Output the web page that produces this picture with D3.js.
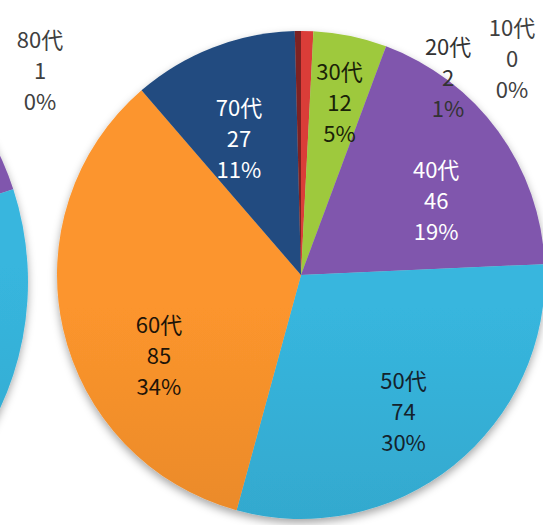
<!DOCTYPE html>
<html>
<head>
<meta charset="utf-8">
<script src="https://cdn.jsdelivr.net/npm/d3@7"></script>
<style>
  html, body { margin: 0; padding: 0; background: #fff; }
  svg { display: block; }
  text { font-family: "Noto Sans CJK JP", "Noto Sans", sans-serif; font-size: 22px; }
</style>
</head>
<body>
<svg id="chart" width="543" height="525"></svg>
<script>
// age groups and counts (main pie)
var ages = ["10代", "20代", "30代", "40代", "50代", "60代", "70代", "80代"];
var counts = [0, 2, 12, 46, 74, 85, 27, 1];
// partly visible neighbour pie on the left
var leftCounts = [0, 3, 15, 32, 80, 80, 39, 1];

var colors = ["#4F81BD", "#D63B37", "#9BC53D", "#7E55AA", "#36B3DA", "#F8922C", "#1F4A7E", "#7B1F1F"];

var svg = d3.select("#chart");
var defs = svg.append("defs");

var cx = 301, cy = 275, r = 244;
var lcx = -272, lcy = 282, lr = 300;

// soft shadow under the pies
var f = defs.append("filter").attr("id", "shadow")
    .attr("x", "-20%").attr("y", "-20%").attr("width", "140%").attr("height", "140%");
f.append("feDropShadow").attr("dx", 0).attr("dy", 4).attr("stdDeviation", 4)
    .attr("flood-color", "#000").attr("flood-opacity", 0.35);

function gradient(id, c, y0, y1) {
    var g = defs.append("linearGradient").attr("id", id)
        .attr("gradientUnits", "userSpaceOnUse")
        .attr("x1", 0).attr("x2", 0).attr("y1", y0).attr("y2", y1);
    g.append("stop").attr("offset", 0).attr("stop-color", d3.color(c).brighter(0.05));
    g.append("stop").attr("offset", 1).attr("stop-color", d3.color(c).darker(0.45));
}
colors.forEach(function(c, i) {
    gradient("g" + i, c, cy - r, cy + r);
    gradient("lg" + i, c, lcy - lr, lcy + lr);
});

var pie = d3.pie().sort(null).value(function(d) { return d; });

// left pie (cropped)
var larc = d3.arc().innerRadius(0).outerRadius(lr);
svg.append("g").attr("transform", "translate(" + lcx + "," + lcy + ")")
    .attr("filter", "url(#shadow)")
    .selectAll("path").data(pie(leftCounts)).enter().append("path")
    .attr("d", larc)
    .attr("fill", function(d, i) { return "url(#lg" + i + ")"; });

// main pie
var arc = d3.arc().innerRadius(0).outerRadius(r);
var total = d3.sum(counts);
var arcs = pie(counts);
svg.append("g").attr("transform", "translate(" + cx + "," + cy + ")")
    .attr("filter", "url(#shadow)")
    .selectAll("path").data(arcs).enter().append("path")
    .attr("d", arc)
    .attr("fill", function(d, i) { return "url(#g" + i + ")"; });

// label placement: from the arc centroid, nudged like Excel's best fit
var labelArc = d3.arc().innerRadius(r * 0.66).outerRadius(r * 0.66);
var nudge = [[211, -55], [143, -36], [6, -14], [5, 21], [2, 11], [15, 46], [-4, 15], null];
var textColor = ["#404040", "#333", "#1a2208", "#fff", "#14222c", "#1e1408", "#fff", "#404040"];
var lineH = 31;

function drawLabel(x, y, i, val, tot) {
    var pct = Math.round(val / tot * 100) + "%";
    var t = svg.append("text").attr("text-anchor", "middle").attr("fill", textColor[i]);
    [ages[i], val, pct].forEach(function(s, k) {
        t.append("tspan").attr("x", x).attr("y", y + (k - 1) * lineH).attr("dy", "0.35em").text(s);
    });
}

arcs.forEach(function(d, i) {
    if (!nudge[i]) return;
    var c = labelArc.centroid(d);
    drawLabel(cx + c[0] + nudge[i][0], cy + c[1] + nudge[i][1], i, d.data, total);
});

// 80代 label sits above the left pie
drawLabel(40, 71, 7, counts[7], total);
</script>
</body>
</html>
